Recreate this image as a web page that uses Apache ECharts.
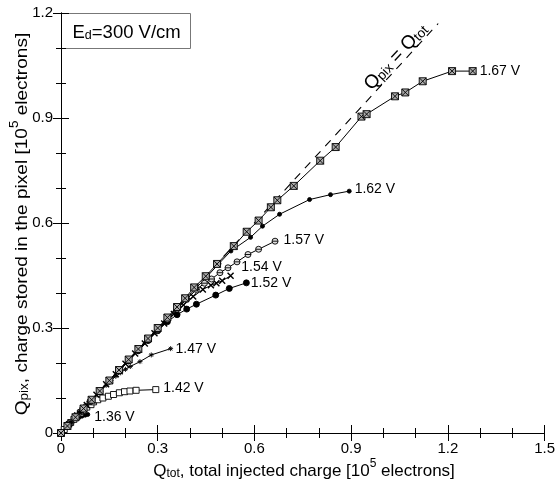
<!DOCTYPE html>
<html>
<head>
<meta charset="utf-8">
<script src="https://cdn.jsdelivr.net/npm/echarts@6/dist/echarts.min.js"></script>
<style>
  html, body { margin: 0; padding: 0; background: #fff; }
  #chart { width: 558px; height: 480px; }
</style>
</head>
<body>
<div id="chart"></div>
<script>
// Pixel charge vs. injected charge for several preamplifier supply voltages
// (x: Q_tot, y: Q_pix, both in units of 1e5 electrons)
const xTicks = [0, 0.3, 0.6, 0.9, 1.2, 1.5];
const yTicks = [0, 0.3, 0.6, 0.9, 1.2];

const v136 = [[0,0],[0.005,0.005],[0.012,0.012],[0.02,0.019],[0.028,0.026],[0.036,0.032],[0.045,0.038],[0.055,0.044],[0.065,0.048],[0.075,0.051],[0.083,0.053]];
const v142 = [[0,0],[0.01,0.01],[0.02,0.02],[0.03,0.03],[0.04,0.039],[0.05,0.048],[0.06,0.057],[0.068,0.065],[0.08,0.074],[0.093,0.081],[0.101,0.089],[0.114,0.095],[0.13,0.1],[0.147,0.105],[0.163,0.11],[0.181,0.115],[0.197,0.118],[0.214,0.12],[0.233,0.122],[0.294,0.124]];
const v147 = [[0,0],[0.02,0.02],[0.04,0.04],[0.06,0.06],[0.08,0.079],[0.1,0.098],[0.12,0.117],[0.14,0.136],[0.155,0.15],[0.17,0.162],[0.185,0.172],[0.2,0.182],[0.215,0.19],[0.245,0.204],[0.28,0.223],[0.34,0.241]];
const v152 = [[0,0],[0.03,0.03],[0.06,0.06],[0.09,0.089],[0.12,0.118],[0.15,0.148],[0.18,0.177],[0.21,0.206],[0.24,0.235],[0.27,0.264],[0.3,0.292],[0.33,0.318],[0.36,0.338],[0.39,0.354],[0.42,0.368],[0.48,0.394],[0.522,0.413],[0.575,0.429]];
const v154 = [[0,0],[0.025,0.025],[0.05,0.05],[0.08,0.08],[0.11,0.109],[0.14,0.139],[0.17,0.168],[0.2,0.198],[0.23,0.227],[0.26,0.256],[0.29,0.285],[0.32,0.313],[0.35,0.34],[0.38,0.366],[0.41,0.39],[0.44,0.41],[0.465,0.422],[0.482,0.428],[0.5,0.435],[0.526,0.449]];
const v157 = [[0,0],[0.03,0.03],[0.06,0.06],[0.09,0.09],[0.12,0.119],[0.15,0.149],[0.18,0.178],[0.21,0.208],[0.24,0.237],[0.27,0.267],[0.3,0.296],[0.33,0.325],[0.36,0.354],[0.39,0.382],[0.42,0.41],[0.445,0.428],[0.467,0.44],[0.493,0.458],[0.518,0.472],[0.546,0.489],[0.58,0.51],[0.613,0.525],[0.664,0.548]];
const v162 = [[0,0],[0.03,0.03],[0.06,0.06],[0.09,0.09],[0.12,0.12],[0.15,0.149],[0.18,0.179],[0.21,0.209],[0.24,0.238],[0.27,0.268],[0.3,0.298],[0.33,0.327],[0.36,0.357],[0.39,0.386],[0.42,0.415],[0.455,0.449],[0.49,0.484],[0.527,0.52],[0.588,0.559],[0.625,0.591],[0.678,0.625],[0.771,0.667],[0.836,0.681],[0.894,0.691]];
const v167 = [[0,0],[0.02,0.02],[0.045,0.045],[0.07,0.07],[0.095,0.095],[0.12,0.12],[0.15,0.15],[0.18,0.18],[0.21,0.21],[0.24,0.24],[0.27,0.27],[0.3,0.3],[0.33,0.33],[0.36,0.36],[0.385,0.385],[0.413,0.416],[0.449,0.448],[0.484,0.483],[0.536,0.534],[0.576,0.575],[0.613,0.607],[0.651,0.645],[0.671,0.665],[0.722,0.706],[0.804,0.778],[0.852,0.817],[0.932,0.904],[0.948,0.911],[1.036,0.962],[1.068,0.973],[1.122,1.005],[1.213,1.034],[1.277,1.034]];
const identity = [[0,0],[1.17,1.17]];

const FONT = "'Liberation Sans', Arial, Helvetica, sans-serif";

const curves = [
  { name: '1.36 V', data: v136, symbol: 'circle', size: 4, fill: '#000', off: [1, 3] },
  { name: '1.42 V', data: v142, symbol: 'rect', size: 6, fill: '#fff', off: [1, -1] },
  { name: '1.47 V', data: v147, symbol: 'path://M5,0L5,10M0,5L10,5M1.5,1.5L8.5,8.5M8.5,1.5L1.5,8.5', size: 5, fill: '#000', off: [-1, 0] },
  { name: '1.52 V', data: v152, symbol: 'circle', size: 6, fill: '#000', off: [-2, 0] },
  { name: '1.54 V', data: v154, symbol: 'path://M0,0L10,10M10,0L0,10', size: 6, fill: '#000', off: [4, -9], bw: 1.4 },
  { name: '1.57 V', data: v157, symbol: 'path://M5,0A5,5,0,1,1,5,10A5,5,0,1,1,5,0ZM0,5L10,5', size: 6, fill: '#ddd', off: [2, -1.5] },
  { name: '1.62 V', data: v162, symbol: 'circle', size: 4, fill: '#000', off: [0, -2.5] },
  { name: '1.67 V', data: v167, symbol: 'path://M0,0L10,0L10,10L0,10ZM0,0L10,10M10,0L0,10', size: 7, fill: '#aaa', off: [0, 0] }
];

const series = curves.map(c => ({
  name: c.name,
  type: 'line',
  xAxisIndex: 0,
  yAxisIndex: 0,
  symbol: c.symbol,
  symbolSize: c.size,
  showAllSymbol: true,
  animation: false,
  lineStyle: { color: '#000', width: 1 },
  itemStyle: { color: c.fill, borderColor: '#000', borderWidth: c.bw || 0.9 },
  data: c.data.map((p, i) => i === c.data.length - 1
    ? { value: p, label: { show: true, formatter: c.name, position: 'right', distance: 3,
        offset: c.off, color: '#000', fontSize: 14, fontFamily: FONT } }
    : p)
}));

series.push({
  name: 'identity',
  type: 'line',
  symbol: 'none',
  animation: false,
  lineStyle: { color: '#000', width: 1.1, type: [8, 7] },
  data: identity,
  z: 1
});

const tickStyle = {
  axisLine: { show: true, lineStyle: { color: '#000', width: 1 } },
  axisTick: { show: true, inside: true, length: 8, lineStyle: { color: '#000', width: 1 } },
  minorTick: { show: true, splitNumber: 3, length: 5, lineStyle: { color: '#000', width: 1 } },
  splitLine: { show: false }
};

const axisLabel = { color: '#000', fontSize: 15, fontFamily: FONT, margin: 8 };

// rich-text styles: main, subscript, superscript
function richSet(main, small) {
  return {
    m: { fontSize: main, fontFamily: FONT, fill: '#000', lineHeight: 22, verticalAlign: 'bottom' },
    s: { fontSize: small, fontFamily: FONT, fill: '#000', lineHeight: 9, verticalAlign: 'bottom' },
    p: { fontSize: small, fontFamily: FONT, fill: '#000', lineHeight: 12, verticalAlign: 'top' }
  };
}

const chart = echarts.init(document.getElementById('chart'), null, { renderer: 'canvas' });
chart.setOption({
  backgroundColor: '#fff',
  animation: false,
  grid: { left: 61, right: 12, top: 13, bottom: 47 },
  xAxis: [
    Object.assign({ type: 'value', position: 'bottom', min: xTicks[0], max: xTicks[xTicks.length - 1], interval: 0.3,
      axisLabel: Object.assign({}, axisLabel, { formatter: v => String(+v.toFixed(1)) }) }, tickStyle),
    Object.assign({ type: 'value', position: 'top', min: xTicks[0], max: xTicks[xTicks.length - 1], interval: 0.3,
      axisLabel: { show: false } }, tickStyle)
  ],
  yAxis: [
    Object.assign({ type: 'value', position: 'left', min: yTicks[0], max: yTicks[yTicks.length - 1], interval: 0.3,
      axisLabel: Object.assign({}, axisLabel, { formatter: v => String(+v.toFixed(1)) }) }, tickStyle),
    Object.assign({ type: 'value', position: 'right', min: yTicks[0], max: yTicks[yTicks.length - 1], interval: 0.3,
      axisLabel: { show: false } }, tickStyle)
  ],
  series: series,
  graphic: [
    {
      type: 'group', left: 61, top: 13,
      children: [
        { type: 'rect', shape: { x: 0, y: 0, width: 129, height: 35 },
          style: { fill: '#fff', stroke: '#777', lineWidth: 1 } },
        { type: 'text', x: 11, y: 18,
          style: { text: '{m|E}{s|d}{m|=300 V/cm}', verticalAlign: 'middle', rich: richSet(18.5, 12.5) } }
      ]
    },
    {
      type: 'text', x: 304, y: 469,
      style: { text: '{m|Q}{s|tot}{m|, total injected charge [10}{p|5}{m| electrons]}',
        align: 'center', verticalAlign: 'middle', rich: richSet(17, 12) }
    },
    {
      type: 'text', x: 20, y: 224, rotation: Math.PI / 2, scaleX: 1.12,
      style: { text: '{m|Q}{s|pix}{m|, charge stored in the pixel [10}{p|5}{m| electrons]}',
        align: 'center', verticalAlign: 'middle', rich: richSet(17, 12) }
    },
    {
      type: 'text', x: 395, y: 56, rotation: 0.82,
      style: { text: '{m|Q}{s|pix}{m| = Q}{s|tot}',
        align: 'center', verticalAlign: 'middle', rich: richSet(19, 13.5) }
    }
  ]
});
</script>
</body>
</html>
